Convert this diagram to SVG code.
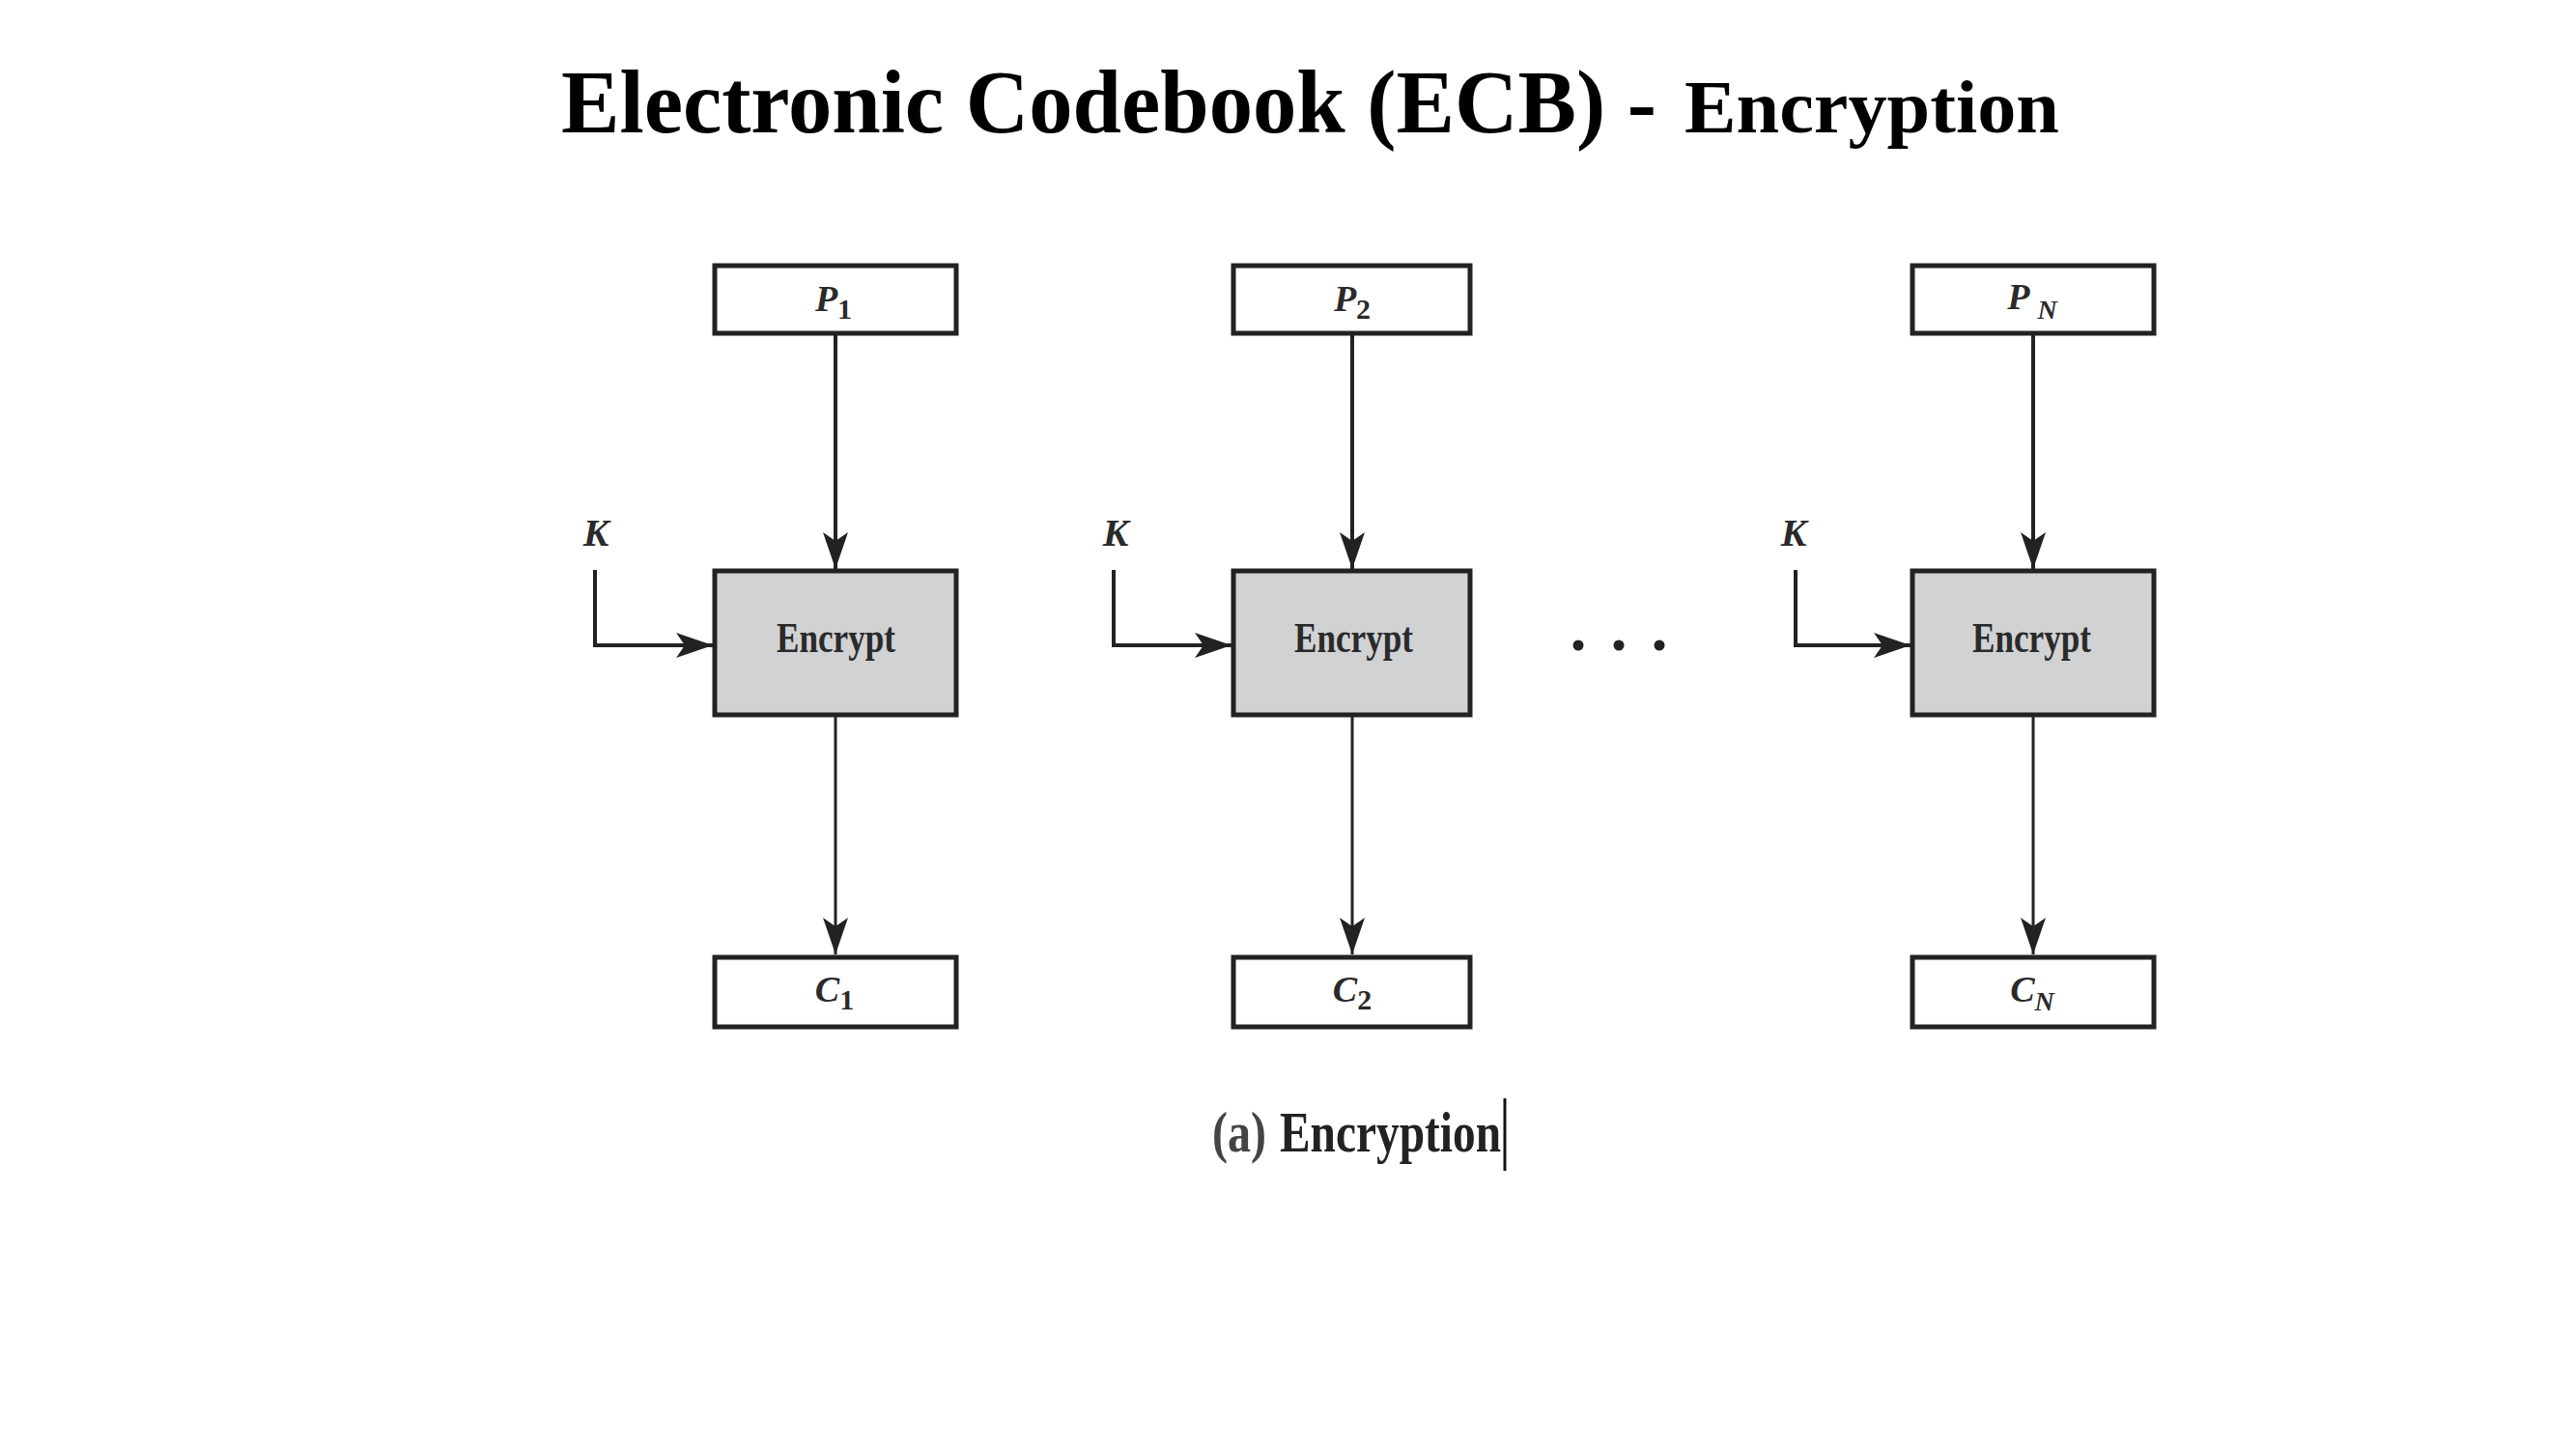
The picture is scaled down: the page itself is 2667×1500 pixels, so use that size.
<svg xmlns="http://www.w3.org/2000/svg" width="2667" height="1500" viewBox="0 0 2667 1500">
<style>
.title{font-family:"Liberation Serif","Times New Roman",serif;font-weight:bold;fill:#000}
.box{fill:#fff;stroke:#222;stroke-width:5}
.enc{fill:#d1d2d4;stroke:#222;stroke-width:5}
.lbl{font-family:"Liberation Serif","Times New Roman",serif;font-weight:bold;font-style:italic;fill:#2a2a2a}
.etxt{font-family:"Liberation Serif","Times New Roman",serif;font-weight:bold;fill:#2a2a2a;font-size:44px}
.ln{stroke:#222;stroke-width:4;fill:none}
.ln2{stroke:#222;stroke-width:3;fill:none}
.cap{font-family:"Liberation Serif","Times New Roman",serif;font-weight:bold;fill:#222;font-size:60px}
</style>
<defs>
<marker id="ah" markerUnits="userSpaceOnUse" viewBox="0 0 38 26" refX="38" refY="13" markerWidth="38" markerHeight="26" orient="auto">
<path d="M0,0 L38,13 L0,26 L9,13 Z" fill="#222"/>
</marker>
</defs>
<rect width="2667" height="1500" fill="#fff"/>

<g id="title">
<text class="title" x="581" y="137" font-size="94" textLength="1134" lengthAdjust="spacingAndGlyphs">Electronic Codebook (ECB) -</text>
<text class="title" x="1744" y="137" font-size="79" textLength="388" lengthAdjust="spacingAndGlyphs">Encryption</text>
</g>

<g id="connectors">
<line class="ln" x1="865" y1="345" x2="865" y2="589" marker-end="url(#ah)"/>
<line class="ln" x1="1400" y1="345" x2="1400" y2="589" marker-end="url(#ah)"/>
<line class="ln" x1="2105" y1="345" x2="2105" y2="589" marker-end="url(#ah)"/>
<polyline class="ln" points="616,590 616,668 738,668" marker-end="url(#ah)"/>
<polyline class="ln" points="1153,590 1153,668 1275,668" marker-end="url(#ah)"/>
<polyline class="ln" points="1859,590 1859,668 1978,668" marker-end="url(#ah)"/>
<line class="ln2" x1="865" y1="740" x2="865" y2="988" marker-end="url(#ah)"/>
<line class="ln2" x1="1400" y1="740" x2="1400" y2="988" marker-end="url(#ah)"/>
<line class="ln2" x1="2105" y1="740" x2="2105" y2="988" marker-end="url(#ah)"/>
</g>

<g id="P1"><rect class="box" x="740" y="275" width="250" height="70"/>
<text class="lbl" x="863" y="322" text-anchor="middle" font-size="38">P<tspan font-size="30" dy="8" font-style="normal">1</tspan></text></g>
<g id="P2"><rect class="box" x="1277" y="275" width="245" height="70"/>
<text class="lbl" x="1400" y="322" text-anchor="middle" font-size="38">P<tspan font-size="30" dy="8" font-style="normal">2</tspan></text></g>
<g id="PN"><rect class="box" x="1980" y="275" width="250" height="70"/>
<text class="lbl" x="2104" y="320" text-anchor="middle" font-size="38">P<tspan font-size="28" dx="8" dy="10">N</tspan></text></g>

<g id="K1"><text class="lbl" x="617" y="565" text-anchor="middle" font-size="40">K</text></g>
<g id="K2"><text class="lbl" x="1155" y="565" text-anchor="middle" font-size="40">K</text></g>
<g id="KN"><text class="lbl" x="1857" y="565" text-anchor="middle" font-size="40">K</text></g>

<g id="E1"><rect class="enc" x="740" y="591" width="250" height="149"/>
<text class="etxt" x="804" y="675" textLength="123" lengthAdjust="spacingAndGlyphs">Encrypt</text></g>
<g id="E2"><rect class="enc" x="1277" y="591" width="245" height="149"/>
<text class="etxt" x="1340" y="675" textLength="123" lengthAdjust="spacingAndGlyphs">Encrypt</text></g>
<g id="EN"><rect class="enc" x="1980" y="591" width="250" height="149"/>
<text class="etxt" x="2042" y="675" textLength="123" lengthAdjust="spacingAndGlyphs">Encrypt</text></g>

<g id="dots" fill="#222">
<circle cx="1634" cy="668" r="5.5"/>
<circle cx="1676" cy="668" r="5.5"/>
<circle cx="1718" cy="668" r="5.5"/>
</g>

<g id="C1"><rect class="box" x="740" y="991" width="250" height="72"/>
<text class="lbl" x="864" y="1037" text-anchor="middle" font-size="38">C<tspan font-size="30" dy="8" font-style="normal">1</tspan></text></g>
<g id="C2"><rect class="box" x="1277" y="991" width="245" height="72"/>
<text class="lbl" x="1400" y="1037" text-anchor="middle" font-size="38">C<tspan font-size="30" dy="8" font-style="normal">2</tspan></text></g>
<g id="CN"><rect class="box" x="1980" y="991" width="250" height="72"/>
<text class="lbl" x="2104" y="1037" text-anchor="middle" font-size="38">C<tspan font-size="28" dy="9">N</tspan></text></g>

<g id="caption">
<text class="cap" x="1255" y="1192" fill="#444" textLength="56" lengthAdjust="spacingAndGlyphs" style="fill:#444">(a)</text>
<text class="cap" x="1325" y="1192" textLength="229" lengthAdjust="spacingAndGlyphs">Encryption</text>
<line x1="1558" y1="1137" x2="1558" y2="1212" stroke="#111" stroke-width="3"/>
</g>
</svg>
